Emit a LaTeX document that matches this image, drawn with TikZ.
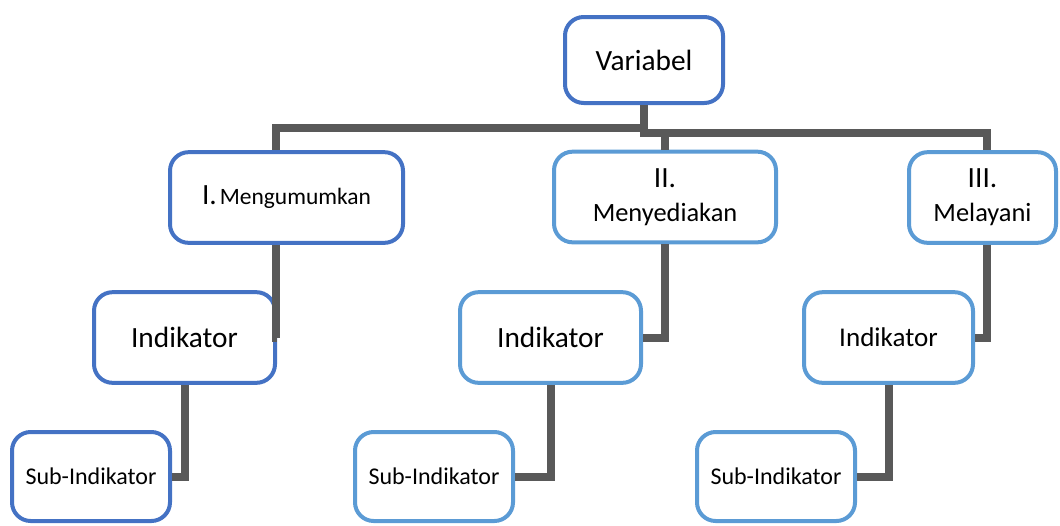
\documentclass[tikz,border=0pt]{standalone}
\usepackage{fontspec}
\setmainfont{Carlito}
\definecolor{darkblue}{HTML}{4472C4}
\definecolor{lightblue}{HTML}{5B9BD5}
\definecolor{linkgray}{HTML}{595959}
\newcommand{\szbig}{\fontsize{22}{25.5}\selectfont}
\newcommand{\szmid}{\fontsize{19.8}{25.5}\selectfont}
\newcommand{\szsmall}{\fontsize{18}{21}\selectfont}
\tikzset{
  box/.style={draw, line width=3pt, rounded corners=14pt, fill=white, inner sep=0pt, align=center, text=black},
  boxdark/.style={box, draw=darkblue},
  boxlight/.style={box, draw=lightblue},
  link/.style={draw=linkgray, line width=6pt},
}
\begin{document}
\begin{tikzpicture}[x=0.75pt, y=-0.75pt]
  \useasboundingbox (0,0) rectangle (1060,525);
  % ========== level 0 ==========
  \node[boxdark, minimum width=118.5pt, minimum height=64.5pt, font=\szbig] (var) at (644,60) {Variabel};

  % ========== level 1 ==========
  \node[boxdark, minimum width=174.75pt, minimum height=68pt] (mI) at (286.5,197.5)
    {{\szbig I.} {\fontsize{17.6}{21}\selectfont Mengumumkan}};
  \node[boxlight, minimum width=166.5pt, minimum height=68pt, font=\szmid] (mII) at (665,197)
    {{\szbig II.}\\Menyediakan};
  \node[boxlight, minimum width=110.25pt, minimum height=68pt, font=\szmid] (mIII) at (982.5,197.5)
    {{\szbig III.}\\Melayani};

  % ========== level 2 ==========
  \node[boxdark, minimum width=135.75pt, minimum height=68pt, font=\szbig] (indI) at (184.5,337.5) {Indikator};
  \node[boxlight, minimum width=135.75pt, minimum height=68pt, font=\szbig] (indII) at (550.5,337.5) {Indikator};
  \node[boxlight, minimum width=126.75pt, minimum height=68pt, font=\fontsize{20.3}{24}\selectfont] (indIII) at (888.5,337.5) {Indikator};

  % ========== level 3 ==========
  \node[boxdark, minimum width=118.5pt, minimum height=66.75pt, font=\szsmall] (subI) at (91,476.5) {Sub-Indikator};
  \node[boxlight, minimum width=118.5pt, minimum height=66.75pt, font=\szsmall] (subII) at (434,476.5) {Sub-Indikator};
  \node[boxlight, minimum width=118.5pt, minimum height=66.75pt, font=\szsmall] (subIII) at (776,476.5) {Sub-Indikator};

  % ========== connectors ==========
  \draw[link] (var.south) -- ++(0,23) -| ([xshift=-7.9pt]mI.north);
  \draw[link] (var.south) -- ++(0,27.5) -| (mII.north);
  \draw[link] (var.south) -- ++(0,27.5) -| ([xshift=3.4pt]mIII.north);

  \draw[link] ([xshift=-7.9pt]mI.south) |- (indI.east);
  \draw[link] (mII.south) |- (indII.east);
  \draw[link] ([xshift=3.4pt]mIII.south) |- (indIII.east);

  \draw[link] (indI.south) |- (subI.east);
  \draw[link] (indII.south) |- (subII.east);
  \draw[link] (indIII.south) |- (subIII.east);
\end{tikzpicture}
\end{document}
